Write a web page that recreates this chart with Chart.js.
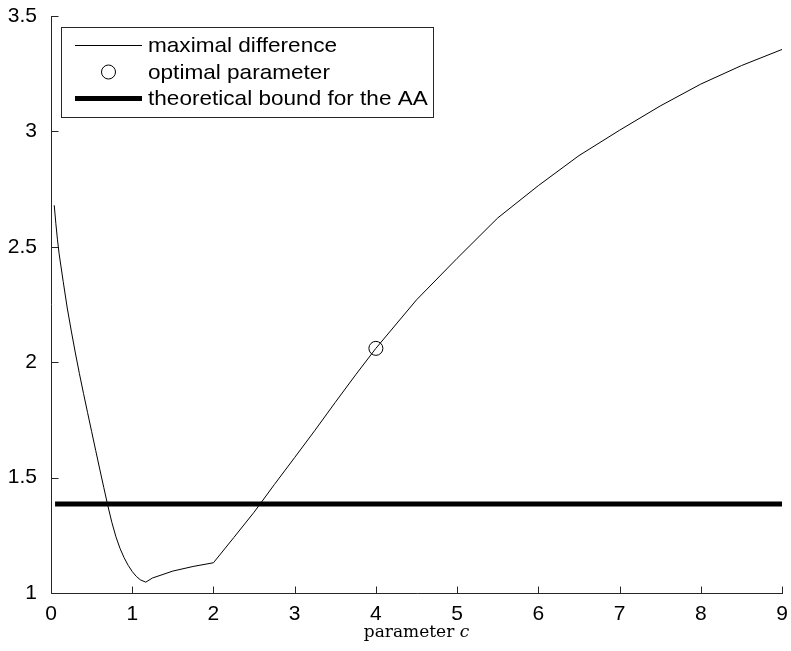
<!DOCTYPE html>
<html>
<head>
<meta charset="utf-8">
<script src="https://cdn.jsdelivr.net/npm/chart.js@4.4.0/dist/chart.umd.min.js"></script>
<style>
  html, body { margin: 0; padding: 0; background: #fff; }
  #wrap { width: 791px; height: 651px; }
</style>
</head>
<body>
<div id="wrap"><canvas id="chart" width="791" height="651"></canvas></div>
<script>
// ===== Data =====
const paramC = [0.04, 0.06, 0.08, 0.1, 0.15, 0.2, 0.25, 0.3, 0.35, 0.4, 0.45, 0.5,
                0.55, 0.6, 0.65, 0.7, 0.75, 0.8, 0.85, 0.9, 0.95, 1.0, 1.05, 1.1, 1.1667,
                1.25, 1.5, 1.75, 2.0, 2.25, 2.5, 2.75, 3.0, 3.25, 3.5, 3.75, 4.0,
                4.5, 5.0, 5.5, 6.0, 6.5, 7.0, 7.5, 8.0, 8.5, 9.0];
const maxDiff = [2.68, 2.60, 2.53, 2.47, 2.35, 2.235, 2.135, 2.04, 1.95, 1.865, 1.782, 1.70,
                 1.618, 1.537, 1.457, 1.378, 1.305, 1.243, 1.193, 1.153, 1.12, 1.093, 1.072, 1.057, 1.047,
                 1.065, 1.095, 1.115, 1.131, 1.24, 1.35, 1.47, 1.587, 1.705, 1.826, 1.945, 2.06,
                 2.27, 2.45, 2.625, 2.765, 2.895, 3.005, 3.11, 3.205, 3.285, 3.355];
const optimalC = [4];
const optimalDiff = [2.06];
const boundC = [0.05, 9];
const boundVal = [1.386, 1.386];

const xTicks = [0, 1, 2, 3, 4, 5, 6, 7, 8, 9];
const yTicks = [1, 1.5, 2, 2.5, 3, 3.5];
const seriesLabels = ['maximal difference', 'optimal parameter', 'theoretical bound for the AA'];
const xTitle = 'parameter ';
const xTitleVar = 'c';

const AXIS_COLOR = '#262626';
const TICK_FONT = '21px "Liberation Sans", Arial, Helvetica, sans-serif';

function toPoints(xs, ys) {
    return xs.map((x, i) => ({ x: x, y: ys[i] }));
}

// Axes drawn MATLAB style: left + bottom lines, inward tick marks
const axisFrame = {
    id: 'axisFrame',
    beforeDatasetsDraw(chart) {
        const { ctx, chartArea: a, scales } = chart;
        const left = Math.round(a.left) + 0.5;
        const bottom = Math.round(a.bottom) + 0.5;
        ctx.save();
        ctx.strokeStyle = AXIS_COLOR;
        ctx.lineWidth = 1;
        ctx.beginPath();
        ctx.moveTo(left, Math.round(a.top));
        ctx.lineTo(left, bottom);
        ctx.lineTo(Math.round(a.right) + 1, bottom);
        // y ticks pointing right
        yTicks.forEach(v => {
            const y = Math.round(scales.y.getPixelForValue(v)) + 0.5;
            ctx.moveTo(left, y);
            ctx.lineTo(left + 7, y);
        });
        // x ticks pointing up
        xTicks.forEach(v => {
            const x = Math.round(scales.x.getPixelForValue(v)) + 0.5;
            ctx.moveTo(x, bottom);
            ctx.lineTo(x, bottom - 7);
        });
        ctx.stroke();
        ctx.restore();
    },
    afterDraw(chart) {
        const { ctx, chartArea: a } = chart;
        ctx.save();

        // legend box
        const bx = 61.5, by = 27.5, bw = 372, bh = 90;
        ctx.fillStyle = '#fff';
        ctx.fillRect(bx, by, bw, bh);
        ctx.strokeStyle = AXIS_COLOR;
        ctx.lineWidth = 1;
        ctx.strokeRect(bx, by, bw, bh);

        const rows = [45.5, 72, 98.5];
        const sx0 = 75, sx1 = 142, tx = 148;
        ctx.strokeStyle = '#000';

        ctx.lineWidth = 1;
        ctx.beginPath();
        ctx.moveTo(sx0, rows[0]);
        ctx.lineTo(sx1, rows[0]);
        ctx.stroke();

        ctx.beginPath();
        ctx.arc((sx0 + sx1) / 2, rows[1], 7, 0, Math.PI * 2);
        ctx.stroke();

        ctx.lineWidth = 5;
        ctx.beginPath();
        ctx.moveTo(sx0, rows[2]);
        ctx.lineTo(sx1, rows[2]);
        ctx.stroke();

        // legend text is a little wider than the tick font
        ctx.fillStyle = '#000';
        ctx.font = TICK_FONT;
        ctx.textBaseline = 'middle';
        ctx.textAlign = 'left';
        seriesLabels.forEach((t, i) => {
            ctx.save();
            ctx.translate(tx, rows[i] + 1);
            ctx.scale(1.075, 1);
            ctx.fillText(t, 0, 0);
            ctx.restore();
        });

        // x axis title, LaTeX-like serif with italic variable
        const upright = '17px "DejaVu Serif", "Liberation Serif", serif';
        const italic = 'italic 17px "DejaVu Serif", "Liberation Serif", serif';
        ctx.font = upright;
        const w1 = ctx.measureText(xTitle).width;
        ctx.font = italic;
        const w2 = ctx.measureText(xTitleVar).width;
        const cx = (a.left + a.right) / 2;
        const start = cx - (w1 + w2) / 2;
        ctx.textBaseline = 'alphabetic';
        ctx.font = upright;
        ctx.fillText(xTitle, start, 637);
        ctx.font = italic;
        ctx.fillText(xTitleVar, start + w1, 637);

        ctx.restore();
    }
};

const chart = new Chart(document.getElementById('chart'), {
    type: 'scatter',
    data: {
        datasets: [
            {
                label: seriesLabels[0],
                data: toPoints(paramC, maxDiff),
                showLine: true,
                borderColor: '#000',
                borderWidth: 1,
                pointRadius: 0,
                tension: 0,
                clip: false
            },
            {
                label: seriesLabels[1],
                data: toPoints(optimalC, optimalDiff),
                showLine: false,
                pointStyle: 'circle',
                pointRadius: 7,
                pointBorderWidth: 1,
                pointBorderColor: '#000',
                pointBackgroundColor: 'rgba(0,0,0,0)',
                clip: false
            },
            {
                label: seriesLabels[2],
                data: toPoints(boundC, boundVal),
                showLine: true,
                borderColor: '#000',
                borderWidth: 5,
                pointRadius: 0,
                clip: false
            }
        ]
    },
    options: {
        responsive: false,
        animation: false,
        devicePixelRatio: 1,
        layout: { padding: { top: 16, right: 9, left: 0, bottom: 0 } },
        plugins: {
            legend: { display: false },
            tooltip: { enabled: false }
        },
        scales: {
            x: {
                type: 'linear',
                min: 0,
                max: 9,
                afterBuildTicks: s => { s.ticks = xTicks.map(v => ({ value: v })); },
                afterFit: s => {
                    s.height = 58;
                    s.paddingLeft = 0;
                    s.paddingRight = 0;
                },
                border: { display: false },
                grid: { display: false, drawTicks: false },
                ticks: {
                    color: '#000',
                    font: { family: '"Liberation Sans", Arial, sans-serif', size: 21 },
                    padding: 9,
                    maxRotation: 0,
                    callback: v => String(v)
                }
            },
            y: {
                type: 'linear',
                min: 1,
                max: 3.5,
                afterBuildTicks: s => { s.ticks = yTicks.map(v => ({ value: v })); },
                afterFit: s => {
                    s.width = 51;
                    s.paddingTop = 0;
                    s.paddingBottom = 0;
                },
                border: { display: false },
                grid: { display: false, drawTicks: false },
                ticks: {
                    color: '#000',
                    font: { family: '"Liberation Sans", Arial, sans-serif', size: 21 },
                    padding: 14,
                    callback: v => String(v)
                }
            }
        }
    },
    plugins: [axisFrame]
});
</script>
</body>
</html>
